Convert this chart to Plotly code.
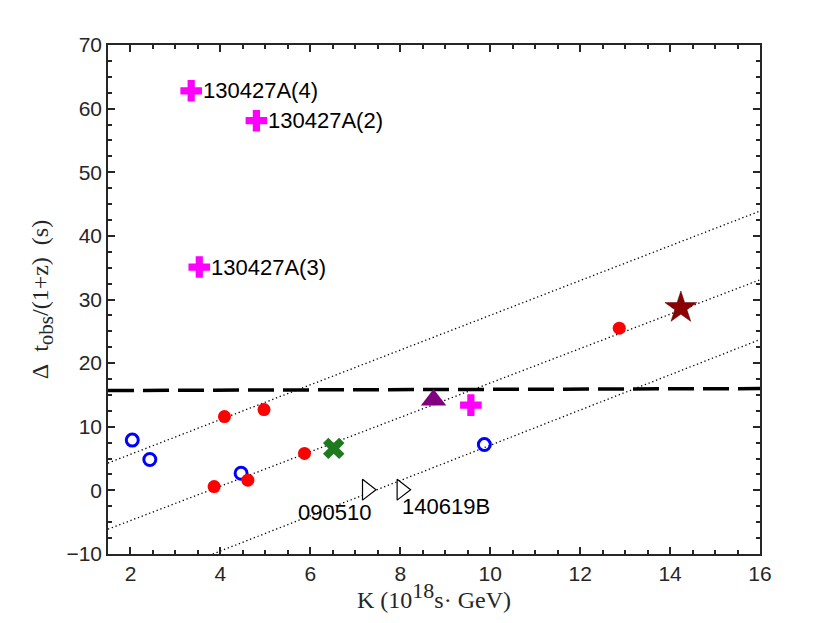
import plotly.graph_objects as go

# ---- data ----
cross_x = [3.35, 4.80, 3.53, 9.57]
cross_y = [62.8, 58.1, 35.1, 13.4]
cross_labels = ["130427A(4)", "130427A(2)", "130427A(3)", ""]

open_circ_x = [2.04, 2.43, 4.46, 9.87]
open_circ_y = [7.9, 4.85, 2.7, 7.2]

red_x = [4.09, 4.97, 3.86, 4.61, 5.87, 12.87]
red_y = [11.6, 12.7, 0.6, 1.6, 5.8, 25.5]

green_x = [6.52]
green_y = [6.6]

tri_x = [8.74]
tri_y = [14.2]

star_x = [14.24]
star_y = [28.7]

open_tri_x = [7.26, 8.03]
open_tri_y = [0.1, 0.1]
open_tri_labels = ["090510", "140619B"]
open_tri_label_x = [6.53, 9.02]
open_tri_label_y = [-3.4, -2.6]

dash_x = [1.5, 16.0]
dash_y = [15.7, 16.0]

dot_upper_x = [1.5, 16.0]
dot_upper_y = [4.3, 43.9]
dot_mid_x = [1.5, 16.0]
dot_mid_y = [-6.1, 33.1]
dot_low_x = [3.83, 16.0]
dot_low_y = [-10.0, 23.7]

x_range = [1.5, 16]
y_range = [-10, 70]

fig = go.Figure()

for lx, ly in [(dot_upper_x, dot_upper_y), (dot_mid_x, dot_mid_y), (dot_low_x, dot_low_y)]:
    fig.add_trace(go.Scatter(x=lx, y=ly, mode="lines",
                             line=dict(color="black", width=1.3, dash="1.3px,2.7px"),
                             hoverinfo="skip", showlegend=False))

fig.add_trace(go.Scatter(x=dash_x, y=dash_y, mode="lines",
                         line=dict(color="black", width=3.5, dash="26px,9px"),
                         showlegend=False))

fig.add_trace(go.Scatter(x=open_circ_x, y=open_circ_y, mode="markers",
                         marker=dict(symbol="circle-open", size=12, color="blue",
                                     line=dict(width=3, color="blue")),
                         showlegend=False))

fig.add_trace(go.Scatter(x=red_x, y=red_y, mode="markers",
                         marker=dict(symbol="circle", size=13, color="red",
                                     line=dict(width=0)),
                         showlegend=False))

fig.add_trace(go.Scatter(x=cross_x, y=cross_y, mode="markers",
                         marker=dict(symbol="cross", size=18, color="#ff00ff",
                                     line=dict(width=0)),
                         showlegend=False))

fig.add_trace(go.Scatter(x=green_x, y=green_y, mode="markers",
                         marker=dict(symbol="x", size=19, color="#1f7a1f",
                                     line=dict(width=0)),
                         showlegend=False))

fig.add_trace(go.Scatter(x=tri_x, y=tri_y, mode="markers",
                         marker=dict(symbol="triangle-up", size=22, color="#800080",
                                     line=dict(width=0)),
                         showlegend=False))

fig.add_trace(go.Scatter(x=star_x, y=star_y, mode="markers",
                         marker=dict(symbol="star", size=24, color="#8b0000",
                                     line=dict(width=0.5, color="#5a0000")),
                         showlegend=False))

fig.add_trace(go.Scatter(x=open_tri_x, y=open_tri_y, mode="markers",
                         marker=dict(symbol="triangle-right", size=18, color="white",
                                     line=dict(width=1.2, color="black")),
                         showlegend=False))

annotations = []
for x, y, t in zip(cross_x, cross_y, cross_labels):
    if t:
        annotations.append(dict(x=x, y=y, xref="x", yref="y", text=t, showarrow=False,
                                xanchor="left", yanchor="middle", xshift=10,
                                font=dict(family="Liberation Sans, Arial", size=22, color="black")))
for x, y, t in zip(open_tri_label_x, open_tri_label_y, open_tri_labels):
    annotations.append(dict(x=x, y=y, xref="x", yref="y", text=t, showarrow=False,
                            xanchor="center", yanchor="middle",
                            font=dict(family="Liberation Sans, Arial", size=22, color="black")))

serif = "Liberation Serif, Times New Roman"
annotations.append(dict(x=-0.1, y=0.5, xref="paper", yref="paper",
                        text="Δ\u2002t<sub><span style='font-size:21px'>obs</span></sub>/(1+z)\u2002(s)",
                        textangle=-90, showarrow=False,
                        xanchor="center", yanchor="middle",
                        font=dict(family=serif, size=24, color="#262626")))
annotations.append(dict(x=0.5, y=-0.081, xref="paper", yref="paper",
                        text="K (10<sup><span style='font-size:22px'>18</span></sup>s· GeV)",
                        showarrow=False, xanchor="center", yanchor="middle",
                        font=dict(family=serif, size=24, color="#262626")))

axis_common = dict(
    showgrid=False, zeroline=False, showline=True, linecolor="#262626", linewidth=1.5,
    mirror="ticks", ticks="inside", ticklen=7, tickwidth=1.5, tickcolor="#262626",
    tickfont=dict(family="Liberation Sans, Arial", size=21, color="#262626"),
)

fig.update_xaxes(range=x_range, dtick=2, tick0=0,
                 minor=dict(dtick=0.5, ticks="inside", ticklen=4, tickwidth=1.5, tickcolor="#262626"),
                 **axis_common)
fig.update_yaxes(range=y_range, dtick=10, tick0=0,
                 minor=dict(dtick=2.5, ticks="inside", ticklen=4, tickwidth=1.5, tickcolor="#262626"),
                 **axis_common)

fig.update_layout(
    width=822, height=615, autosize=False,
    margin=dict(l=100, r=70, t=37, b=69),
    plot_bgcolor="white", paper_bgcolor="white",
    annotations=annotations,
    showlegend=False,
)

fig.write_html("out.html")
